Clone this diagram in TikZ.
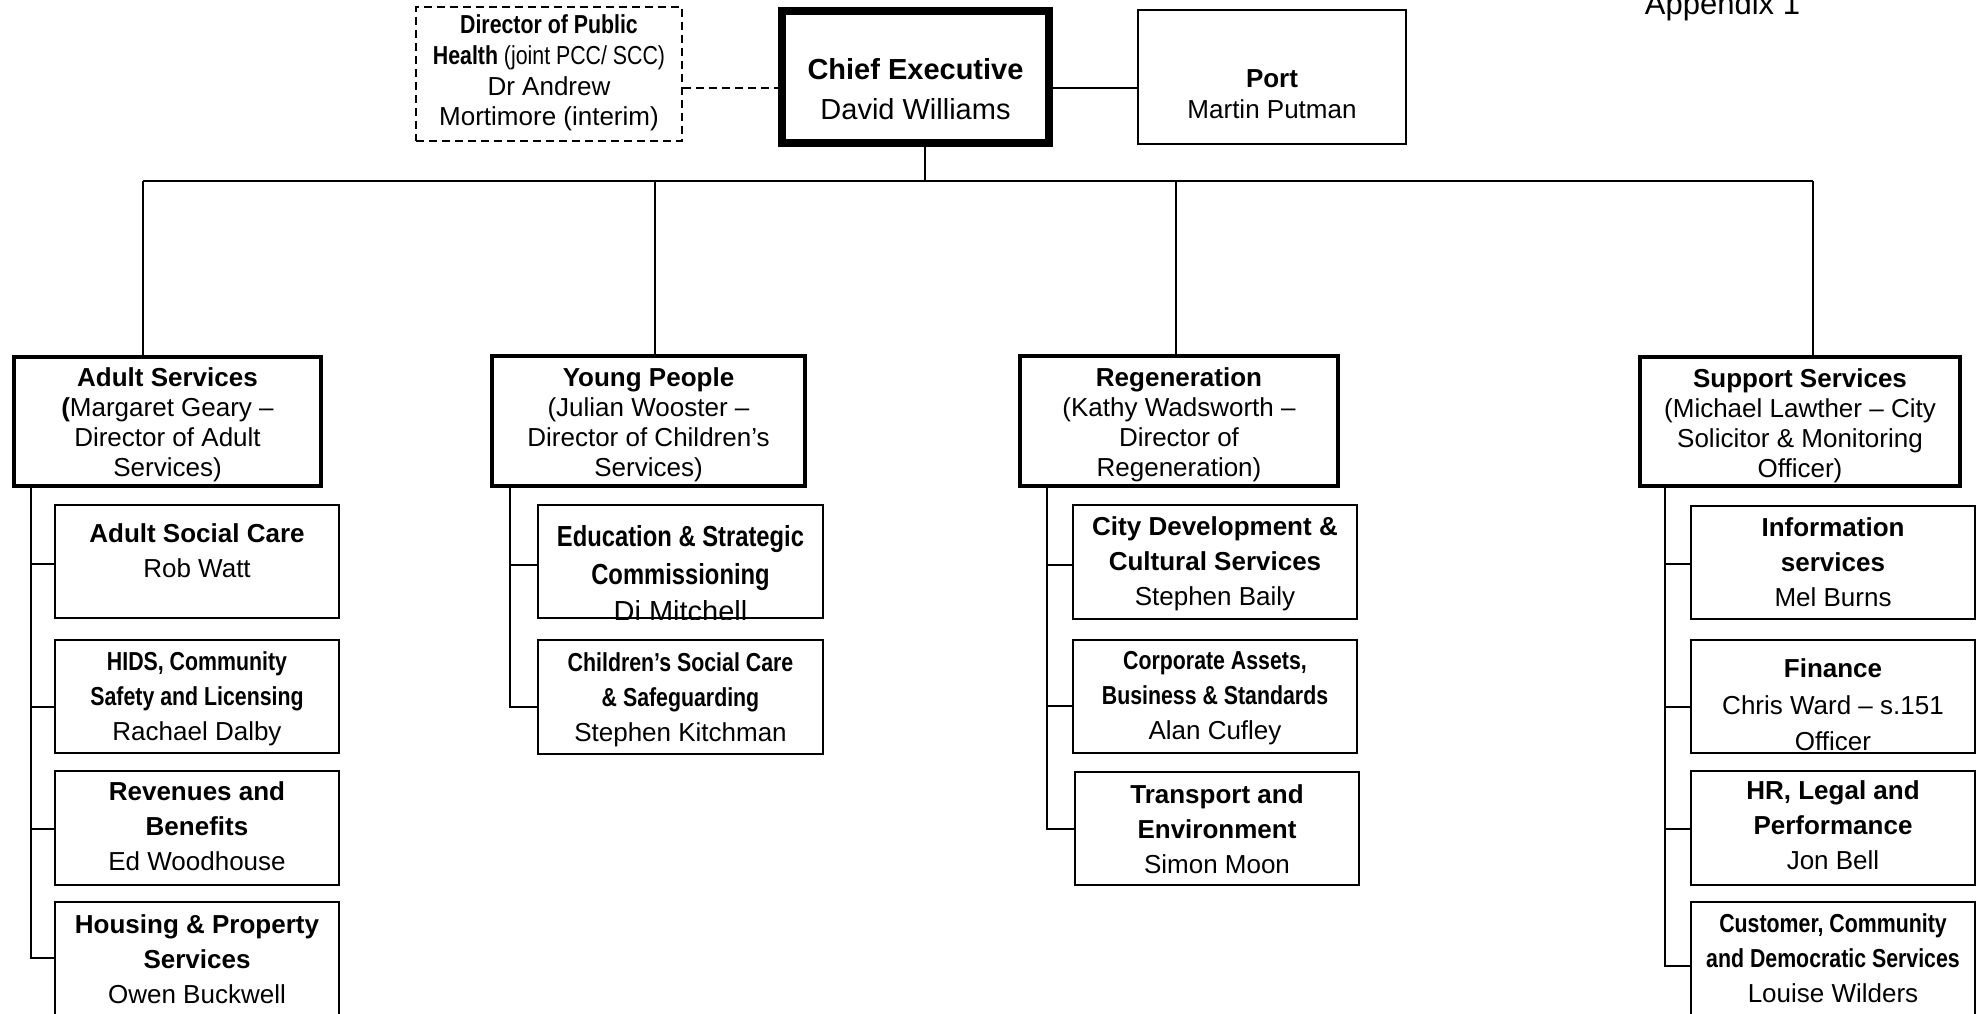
\documentclass[tikz,border=0pt]{standalone}
\usepackage{fontspec}
\setmainfont{Liberation Sans}
\newfontfamily\nar{Liberation Sans}[FakeStretch=0.82]
\newcommand\vst[2]{\rule[\dimexpr#2pt-#1pt/2\relax]{0pt}{\dimexpr#1pt-1pt\relax}}
\newcommand\zD{\vst{30}{9.4}}
\newcommand\zS{\vst{35}{9.4}}
\newcommand\zE{\vst{37.5}{10.4}}
\newcommand\zF{\vst{36.5}{9.4}}
\newcommand\zC{\vst{40}{10.4}}
\newcommand\zP{\vst{31}{9.5}}
\newcommand\zH{\vst{30.7}{9.4}}
\newcommand\nolsl{\lineskiplimit-100pt\relax}
\begin{document}
\begin{tikzpicture}[x=1pt,y=-1pt,
  conn/.style={line width=1.7pt},
  dashconn/.style={line width=1.7pt, dash pattern=on 8pt off 5pt},
  subbox/.style={draw, line width=2pt, inner sep=0pt, minimum width=284pt, minimum height=113pt},
  dirbox/.style={draw, line width=3.5pt, inner sep=0pt, minimum height=129pt},
  txt/.style={align=center, inner sep=0pt},
  fD/.style={font={\fontsize{26}{30}\selectfont\nolsl}},
  fS/.style={font={\fontsize{26}{35}\selectfont\nolsl}},
  fE/.style={font={\fontsize{29}{37.5}\selectfont\nolsl}},
  fF/.style={font={\fontsize{26}{36.5}\selectfont\nolsl}},
  fC/.style={font={\fontsize{29}{40}\selectfont\nolsl}},
  fP/.style={font={\fontsize{26}{31}\selectfont\nolsl}},
  fH/.style={font={\fontsize{26}{30.7}\selectfont\nolsl}}
]
\useasboundingbox (0,0) rectangle (1981,1014);

% ---------- top row ----------
\node[draw, line width=2pt, dash pattern=on 8pt off 5pt, inner sep=0pt,
      minimum width=266pt, minimum height=134pt] (dph) at (549,74) {};
\node[txt, fH] (dpht) at (549,71)
  {\zH{\nar\bfseries Director of Public}\\
   \zH{\nar\bfseries Health}{\nar{} (joint PCC/ SCC)}\\
   \zH Dr Andrew\\
   \zH Mortimore (interim)};

\node[draw, line width=8pt, inner sep=0pt,
      minimum width=267pt, minimum height=132pt] (ce) at (915.5,77) {};
\node[txt, fC] (cet) at (915.5,90)
  {\zC\textbf{Chief Executive}\\\zC David Williams};

\node[draw, line width=2pt, inner sep=0pt,
      minimum width=268pt, minimum height=134pt] (port) at (1272,77) {};
\node[txt, fP] (portt) at (1272,94.5)
  {\zP\textbf{Port}\\\zP Martin Putman};

\node[anchor=base, inner sep=0pt, font={\fontsize{31}{36}\selectfont}] (app)
  at (1722.5,15) {Appendix 1};

\coordinate (hl) at (0,88);
\draw[dashconn] (hl -| dph.east) -- (hl -| ce.west);
\draw[conn] (hl -| ce.east) -- (hl -| port.west);

% ---------- directors ----------
\node[dirbox, minimum width=307pt] (adult) at (167.5,421.5) {};
\node[txt, fD] (adultt) at (167.5,423)
  {\zD\textbf{Adult Services}\\
   \zD\textbf{(}Margaret Geary --\\
   \zD Director of Adult\\
   \zD Services)};

\node[dirbox, minimum width=313pt, minimum height=130pt] (young) at (648.5,421) {};
\node[txt, fD] (youngt) at (648.5,423)
  {\zD\textbf{Young People}\\
   \zD(Julian Wooster --\\
   \zD Director of Children’s\\
   \zD Services)};

\node[dirbox, minimum width=318pt, minimum height=130pt] (regen) at (1179,421) {};
\node[txt, fD] (regent) at (1179,423)
  {\zD\textbf{Regeneration}\\
   \zD(Kathy Wadsworth --\\
   \zD Director of\\
   \zD Regeneration)};

\node[dirbox, minimum width=320pt] (supp) at (1800,421.5) {};
\node[txt, fD] (suppt) at (1800,424)
  {\zD\textbf{Support Services}\\
   \zD(Michael Lawther -- City\\
   \zD Solicitor \& Monitoring\\
   \zD Officer)};

% bus
\coordinate (dC) at (925,181);
\coordinate (dA) at (143,181);
\coordinate (dY) at (655,181);
\coordinate (dR) at (1176,181);
\coordinate (dS) at (1813,181);
\draw[conn] (dC |- ce.south) -- (dC);
\draw[conn] (dA) -- (dS);
\draw[conn] (dA) -- (dA |- adult.north);
\draw[conn] (dY) -- (dY |- young.north);
\draw[conn] (dR) -- (dR |- regen.north);
\draw[conn] (dS) -- (dS |- supp.north);

% ---------- Adult services column ----------
\node[subbox] (a1) at (197,561.5) {};
\node[txt, fS] (a1t) at (197,551.5)
  {\zS\textbf{Adult Social Care}\\\zS Rob Watt};
\node[subbox] (a2) at (197,696.5) {};
\node[txt, fS] (a2t) at (197,696.3)
  {\zS{\nar\bfseries HIDS, Community}\\
   \zS{\nar\bfseries Safety and Licensing}\\
   \zS Rachael Dalby};
\node[subbox, minimum height=114pt] (a3) at (197,828) {};
\node[txt, fS] (a3t) at (197,827)
  {\zS\textbf{Revenues and}\\\zS\textbf{Benefits}\\\zS Ed Woodhouse};
\node[subbox, minimum height=114pt] (a4) at (197,959) {};
\node[txt, fS] (a4t) at (197,959.5)
  {\zS\textbf{Housing \& Property}\\\zS\textbf{Services}\\\zS Owen Buckwell};

\coordinate (tA1) at (31,564);
\coordinate (tA2) at (31,707);
\coordinate (tA3) at (31,829);
\coordinate (tA4) at (31,958);
\draw[conn] (tA1 |- adult.south) -- (tA4) -- (tA4 -| a4.west);
\draw[conn] (tA1) -- (tA1 -| a1.west);
\draw[conn] (tA2) -- (tA2 -| a2.west);
\draw[conn] (tA3) -- (tA3 -| a3.west);

% ---------- Young people column ----------
\node[subbox, minimum width=285pt] (y1) at (680.5,561.5) {};
\begin{scope}
  \clip (y1.south west) rectangle (y1.north east);
  \node[txt, fE] (y1t) at (680.5,574.5)
    {\zE{\nar\bfseries Education \& Strategic}\\
     \zE{\nar\bfseries Commissioning}\\
     \zE Di Mitchell};
\end{scope}
\node[subbox, minimum width=285pt, minimum height=114pt] (y2) at (680.5,697) {};
\node[txt, fS] (y2t) at (680.5,697.5)
  {\zS{\nar\bfseries Children’s Social Care}\\
   \zS{\nar\bfseries \& Safeguarding}\\
   \zS Stephen Kitchman};

\coordinate (tY1) at (510,565);
\coordinate (tY2) at (510,707);
\draw[conn] (tY1 |- young.south) -- (tY2) -- (tY2 -| y2.west);
\draw[conn] (tY1) -- (tY1 -| y1.west);

% ---------- Regeneration column ----------
\node[subbox, minimum height=114pt] (r1) at (1215,562) {};
\node[txt, fS] (r1t) at (1215,561.5)
  {\zS\textbf{City Development \&}\\\zS\textbf{Cultural Services}\\\zS Stephen Baily};
\node[subbox] (r2) at (1215,696.5) {};
\node[txt, fS] (r2t) at (1215,695.5)
  {\zS{\nar\bfseries Corporate Assets,}\\
   \zS{\nar\bfseries Business \& Standards}\\
   \zS Alan Cufley};
\node[subbox] (r3) at (1217,828.5) {};
\node[txt, fS] (r3t) at (1217,829.5)
  {\zS\textbf{Transport and}\\\zS\textbf{Environment}\\\zS Simon Moon};

\coordinate (tR1) at (1047,565);
\coordinate (tR2) at (1047,706);
\coordinate (tR3) at (1047,829);
\draw[conn] (tR1 |- regen.south) -- (tR3) -- (tR3 -| r3.west);
\draw[conn] (tR1) -- (tR1 -| r1.west);
\draw[conn] (tR2) -- (tR2 -| r2.west);

% ---------- Support services column ----------
\node[subbox] (s1) at (1833,562.5) {};
\node[txt, fS] (s1t) at (1833,563)
  {\zS\textbf{Information}\\\zS\textbf{services}\\\zS Mel Burns};
\node[subbox] (s2) at (1833,696.5) {};
\node[txt, fF] (s2t) at (1833,705.5)
  {\zF\textbf{Finance}\\\zF Chris Ward -- s.151\\\zF Officer};
\node[subbox, minimum height=114pt] (s3) at (1833,828) {};
\node[txt, fS] (s3t) at (1833,826)
  {\zS\textbf{HR, Legal and}\\\zS\textbf{Performance}\\\zS Jon Bell};
\node[subbox, minimum height=114pt] (s4) at (1833,959) {};
\node[txt, fS] (s4t) at (1833,959)
  {\zS{\nar\bfseries Customer, Community}\\
   \zS{\nar\bfseries and Democratic Services}\\
   \zS Louise Wilders};

\coordinate (tS1) at (1665,564);
\coordinate (tS2) at (1665,707);
\coordinate (tS3) at (1665,829);
\coordinate (tS4) at (1665,966);
\draw[conn] (tS1 |- supp.south) -- (tS4) -- (tS4 -| s4.west);
\draw[conn] (tS1) -- (tS1 -| s1.west);
\draw[conn] (tS2) -- (tS2 -| s2.west);
\draw[conn] (tS3) -- (tS3 -| s3.west);
\end{tikzpicture}
\end{document}
